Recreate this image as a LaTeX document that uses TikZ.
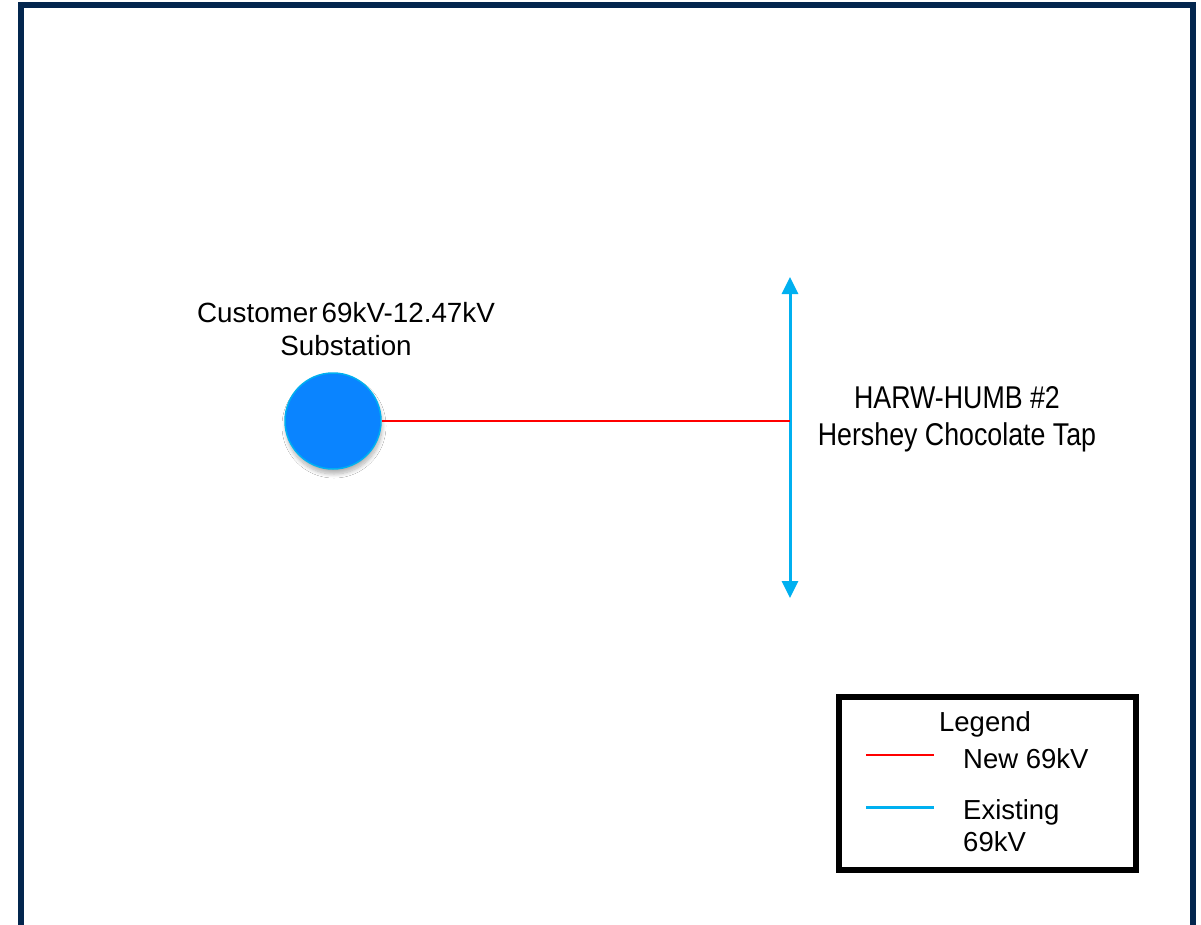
\documentclass[tikz,border=0pt]{standalone}
\usepackage{fontspec}
\setmainfont{Liberation Sans}
\newfontfamily\tapfont[FakeStretch=0.85]{Liberation Sans}
\usetikzlibrary{arrows.meta,shadows.blur}
\definecolor{frameblue}{RGB}{3,38,78}
\definecolor{subblue}{RGB}{10,132,255}
\definecolor{subedge}{RGB}{0,176,240}
\definecolor{existblue}{RGB}{0,176,240}
\definecolor{newred}{RGB}{255,0,0}
\tikzset{
  lbl/.style={font=\fontsize{27.5}{33}\selectfont, inner sep=0pt, anchor=base},
  sublbl/.style={font=\fontsize{27.8}{30}\selectfont, inner sep=0pt, anchor=base},
  taplbl/.style={font=\tapfont\fontsize{31.5}{37}\selectfont, inner sep=0pt, anchor=base},
  newline/.style={draw=newred, line width=2.5pt},
  existline/.style={draw=existblue, line width=3pt},
  subst/.style={circle, fill=subblue, draw=subedge, line width=1.5pt, minimum size=96pt, inner sep=0pt,
    blur shadow={shadow xshift=1pt, shadow yshift=-5pt, shadow blur steps=10, shadow blur radius=4pt, shadow opacity=30}},
}
\begin{document}
\begin{tikzpicture}[x=1pt,y=-1pt]
\useasboundingbox (0,0) rectangle (1201,924);
\fill[white] (0,0) rectangle (1201,924);
\draw[frameblue, line width=6pt] (21,5) rectangle (1193,960);
% substation
\node[subst] (sub) at (333,421) {};
\node[sublbl] (sublbl1) at (346,322) {Customer\hspace{0.15em}69kV-12.47kV};
\node[sublbl] (sublbl2) at (346,355) {Substation};
% tap line
\coordinate (tap) at (790,421);
\coordinate (tapTop) at (790,277);
\coordinate (tapBot) at (790,598);
\draw[existline, {Triangle[width=16pt,length=17pt]}-{Triangle[width=16pt,length=17pt]}] (tapTop) -- (tapBot);
\draw[newline] (sub.east) -- (tap);
\node[taplbl] (taplbl1) at (957,408) {HARW-HUMB \#2};
\node[taplbl] (taplbl2) at (957,445) {Hershey Chocolate Tap};
% legend
\node[draw=black, line width=6pt, minimum width=297pt, minimum height=173pt, inner sep=0pt] (legend) at (987.5,783.5) {};
\node[lbl] (legtitle) at (985,731) {Legend};
\coordinate (l1a) at (866,755);
\coordinate (l1b) at (934,755);
\draw[newline] (l1a) -- (l1b);
\node[lbl, anchor=base west] (l1t) at (963,768) {New 69kV};
\coordinate (l2a) at (866,807);
\coordinate (l2b) at (934,807);
\draw[existline] (l2a) -- (l2b);
\node[lbl, anchor=base west] (l2t) at (963,819) {Existing};
\node[lbl, anchor=base west] (l2u) at (963,851) {69kV};
\end{tikzpicture}
\end{document}
